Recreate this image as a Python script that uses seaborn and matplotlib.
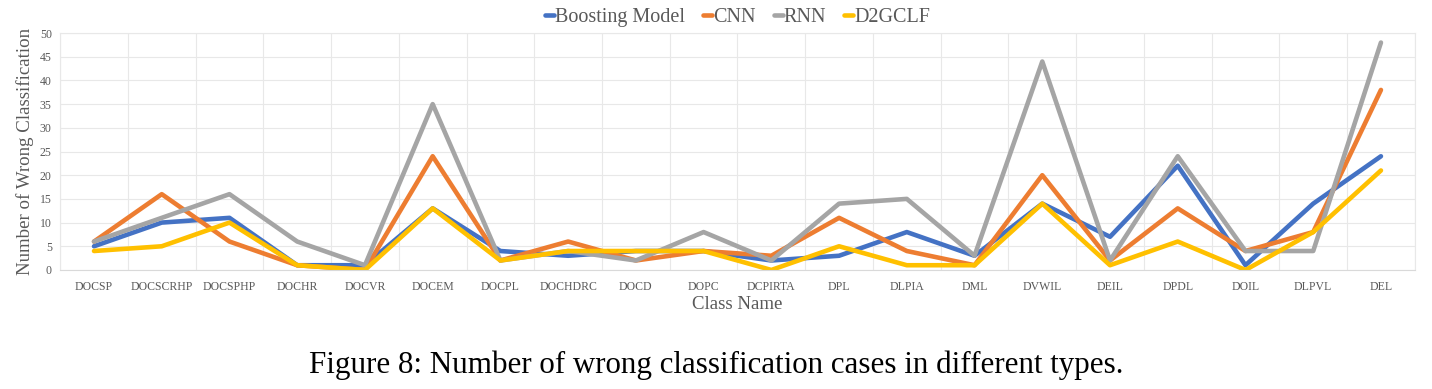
import numpy as np
import pandas as pd
import matplotlib
matplotlib.use("Agg")
import matplotlib.pyplot as plt
import seaborn as sns
from matplotlib.ticker import FixedLocator

classes = ["DOCSP", "DOCSCRHP", "DOCSPHP", "DOCHR", "DOCVR", "DOCEM", "DOCPL",
           "DOCHDRC", "DOCD", "DOPC", "DCPIRTA", "DPL", "DLPIA", "DML", "DVWIL",
           "DEIL", "DPDL", "DOIL", "DLPVL", "DEL"]
boosting = [5, 10, 11, 1, 1, 13, 4, 3, 4, 4, 2, 3, 8, 3, 14, 7, 22, 1, 14, 24]
cnn = [6, 16, 6, 1, 0, 24, 2, 6, 2, 4, 3, 11, 4, 1, 20, 2, 13, 4, 8, 38]
rnn = [6, 11, 16, 6, 1, 35, 2, 4, 2, 8, 2, 14, 15, 3, 44, 2, 24, 4, 4, 48]
d2gclf = [4, 5, 10, 1, 0, 13, 2, 4, 4, 4, 0, 5, 1, 1, 14, 1, 6, 0, 8, 21]

models = ["Boosting Model", "CNN", "RNN", "D2GCLF"]
colors = ["#4472C4", "#ED7D31", "#A5A5A5", "#FFC000"]


def build_frame():
    rows = []
    for name, vals in zip(models, [boosting, cnn, rnn, d2gclf]):
        for c, v in zip(classes, vals):
            rows.append({"Class Name": c, "count": v, "model": name})
    return pd.DataFrame(rows)


def main():
    sns.set_style("white")
    plt.rcParams["font.family"] = ["Liberation Serif", "DejaVu Serif"]

    data = build_frame()
    fig = plt.figure(figsize=(14.32, 3.89), dpi=100)
    ax = fig.add_axes([0.042, 0.306, 0.946, 0.609])

    sns.lineplot(data=data, x="Class Name", y="count", hue="model",
                 palette=colors, hue_order=models, linewidth=3.3,
                 sort=False, ax=ax)

    ax.set_xlim(-0.5, len(classes) - 0.5)
    ax.set_ylim(0, 50)
    ax.set_yticks(range(0, 51, 5))
    ax.xaxis.set_minor_locator(FixedLocator(np.arange(-0.5, len(classes), 1)))
    ax.grid(True, which="minor", axis="x", color="#e8e8e8", linewidth=0.8)
    ax.grid(True, which="major", axis="y", color="#e8e8e8", linewidth=0.8)
    ax.set_axisbelow(True)
    ax.tick_params(axis="both", which="both", length=0, colors="#595959",
                   labelsize=8.5)
    ax.tick_params(axis="x", pad=8)
    ax.tick_params(axis="y", pad=6)
    for s in ax.spines.values():
        s.set_color("#e8e8e8")
        s.set_linewidth(0.8)
    ax.spines["bottom"].set_color("#d9d9d9")

    ax.set_xlabel("Class Name", fontsize=13.5, color="#595959", labelpad=2)
    ax.set_ylabel("Number of Wrong Classification", fontsize=13.6,
                  color="#595959", labelpad=4)

    leg = ax.legend(loc="lower center", bbox_to_anchor=(0.5, 0.99), ncol=4,
                    frameon=False, fontsize=14.5, handlelength=0.45,
                    handletextpad=0.05, columnspacing=0.9, borderaxespad=0)
    for t in leg.get_texts():
        t.set_color("#595959")

    fig.text(0.5, 0.06, "Figure 8: Number of wrong classification cases in different types.",
             ha="center", va="center", fontsize=22.3, color="black")

    fig.savefig("out.png", dpi=100)


if __name__ == "__main__":
    main()
